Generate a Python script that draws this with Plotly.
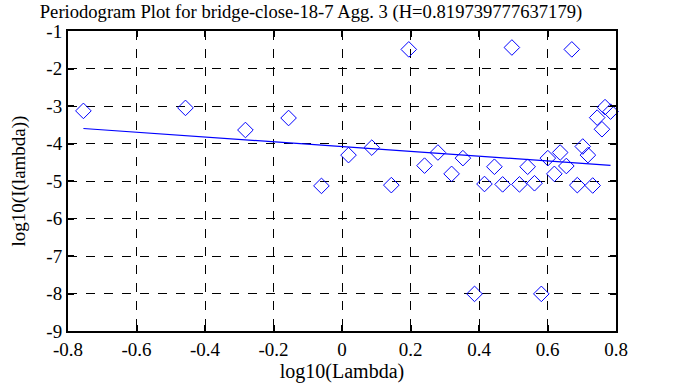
import plotly.graph_objects as go

log_lambda = [-0.755, -0.457, -0.282, -0.156, -0.060, 0.019, 0.087, 0.144, 0.195, 0.241,
              0.280, 0.320, 0.353, 0.387, 0.416, 0.445, 0.469, 0.496, 0.518, 0.542,
              0.562, 0.582, 0.601, 0.620, 0.637, 0.655, 0.671, 0.687, 0.703, 0.718,
              0.732, 0.745, 0.759, 0.768, 0.784]
log_I = [-3.13, -3.05, -3.64, -3.32, -5.13, -4.31, -4.11, -5.11, -1.49, -4.59,
         -4.24, -4.81, -4.39, -8.01, -5.08, -4.62, -5.09, -1.44, -5.09, -4.62,
         -5.06, -8.01, -4.39, -4.81, -4.24, -4.60, -1.49, -5.11, -4.08, -4.31,
         -5.12, -3.31, -3.62, -3.03, -3.15]
fit_x = [-0.755, 0.784]
fit_y = [-3.60, -4.584]
x_ticks = [-0.8, -0.6, -0.4, -0.2, 0, 0.2, 0.4, 0.6, 0.8]
y_ticks = [-1, -2, -3, -4, -5, -6, -7, -8, -9]
title = "Periodogram Plot for bridge-close-18-7 Agg. 3 (H=0.819739777637179)"

font = "Liberation Serif"
fig = go.Figure()
fig.add_trace(go.Scatter(x=log_lambda, y=log_I, mode="markers",
                         marker=dict(symbol="diamond-open", size=12, color="#0000ff",
                                     line=dict(width=1, color="#0000ff")),
                         cliponaxis=False, showlegend=False))
fig.add_trace(go.Scatter(x=fit_x, y=fit_y, mode="lines",
                         line=dict(color="#0000ff", width=1.2), showlegend=False))

axis_common = dict(showline=True, linecolor="black", linewidth=2, mirror="ticks",
                   ticks="inside", ticklen=6, tickwidth=2, tickcolor="black",
                   showgrid=True, gridcolor="black", griddash="dash", gridwidth=1,
                   zeroline=False, automargin=False,
                   tickfont=dict(family=font, size=19, color="black"))
fig.update_xaxes(range=[-0.8, 0.8], tickvals=x_ticks,
                 ticktext=[f"{v:g}" for v in x_ticks],
                 title=dict(text="log10(Lambda)", font=dict(family=font, size=20, color="black"),
                            standoff=2),
                 **axis_common)
fig.update_yaxes(range=[-9, -1], tickvals=y_ticks,
                 ticktext=[str(v) for v in y_ticks],
                 title=dict(text="log10(I(lambda))", font=dict(family=font, size=19, color="black"),
                            standoff=16),
                 **axis_common)
fig.update_layout(
    width=685, height=387,
    margin=dict(l=68, r=69, t=31, b=56),
    paper_bgcolor="white", plot_bgcolor="white",
    title=dict(text=title, x=0.454, xanchor="center", y=0.986, yanchor="top",
               font=dict(family=font, size=18.6, color="black")),
)
fig.write_html("out.html", config={"displayModeBar": False},
               post_script="document.body.style.margin='0';")
